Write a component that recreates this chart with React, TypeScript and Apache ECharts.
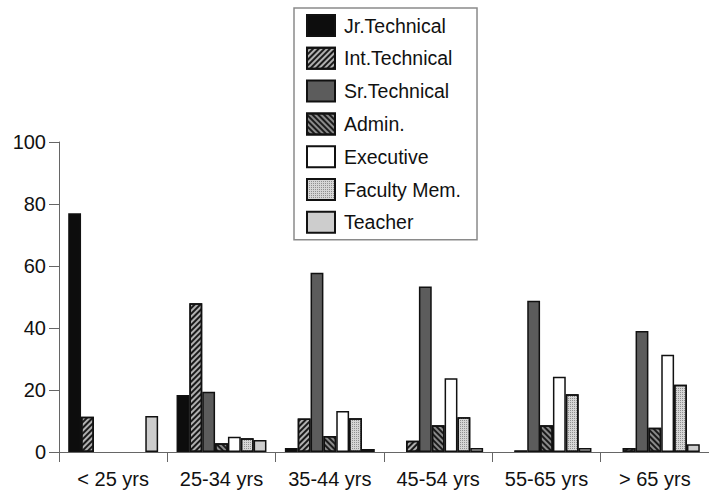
import React, { useEffect, useRef } from "react";
import * as echarts from "echarts";

const categories = ["< 25 yrs", "25-34 yrs", "35-44 yrs", "45-54 yrs", "55-65 yrs", "> 65 yrs"];
const seriesNames = ["Jr.Technical", "Int.Technical", "Sr.Technical", "Admin.", "Executive", "Faculty Mem.", "Teacher"];
const jrTechnical = [77, 18.4, 1.3, 0, 0, 0];
const intTechnical = [11.4, 48, 10.8, 3.6, 0.5, 1.3];
const srTechnical = [0, 19.4, 57.8, 53.4, 48.8, 39];
const admin = [0, 2.8, 5.2, 8.6, 8.6, 7.8];
const executive = [0, 4.9, 13.2, 23.8, 24.3, 31.4];
const facultyMem = [0, 4.4, 10.9, 11.2, 18.6, 21.7];
const teacher = [11.6, 3.9, 1.0, 1.3, 1.3, 2.5];
const yTicks = { min: 0, max: 100, interval: 20 };

const FONT = "'Liberation Sans', Arial, Helvetica, sans-serif";

export default function App() {
  const ref = useRef<HTMLDivElement>(null);
  useEffect(() => {
    if (!ref.current) return;
    const chart = echarts.init(ref.current, undefined, { renderer: "svg" });
    const values = [jrTechnical, intTechnical, srTechnical, admin, executive, facultyMem, teacher];
    const styles: any[] = [
      { color: "#0d0d0d" },
      {
        color: "#b0b0b0",
        decal: { symbol: "rect", dashArrayX: [1, 0], dashArrayY: [1.5, 2], rotation: -Math.PI / 4, color: "#1a1a1a" },
      },
      { color: "#5c5c5c" },
      {
        color: "#8a8a8a",
        decal: { symbol: "rect", dashArrayX: [1, 0], dashArrayY: [1.5, 2], rotation: Math.PI / 4, color: "#1a1a1a" },
      },
      { color: "#ffffff" },
      {
        color: "#d6d6d6",
        decal: { symbol: "rect", symbolSize: 1, dashArrayX: [1, 1], dashArrayY: [1, 1], color: "#909090" },
      },
      { color: "#cdcdcd" },
    ];
    const series = seriesNames.map((name, i) => ({
      name,
      type: "bar",
      barGap: "0%",
      barCategoryGap: "17%",
      data: values[i].map((v) => (v === 0 ? "-" : v)),
      itemStyle: { ...styles[i], borderColor: "#111", borderWidth: 1.5 },
    }));
    chart.setOption({
      animation: false,
      backgroundColor: "#ffffff",
      textStyle: { fontFamily: FONT },
      legend: {
        orient: "vertical",
        left: 294,
        top: 8,
        padding: [6, 16, 6, 12],
        itemWidth: 28,
        itemHeight: 21,
        itemGap: 9.8,
        icon: "rect",
        borderColor: "#8a8a8a",
        borderWidth: 1.5,
        backgroundColor: "#ffffff",
        textStyle: { fontFamily: FONT, fontSize: 19.5, color: "#111", lineHeight: 21, padding: [0, 0, 0, 4] },
        data: seriesNames,
      },
      grid: { left: 59, right: 0, top: 142, bottom: 40, containLabel: false },
      xAxis: {
        type: "category",
        data: categories,
        axisLine: { lineStyle: { color: "#666", width: 1 } },
        axisTick: { show: true, length: 10, interval: 0, lineStyle: { color: "#666" } },
        axisLabel: { fontFamily: FONT, fontSize: 20, color: "#111", margin: 17, interval: 0 },
      },
      yAxis: {
        type: "value",
        ...yTicks,
        splitLine: { show: false },
        axisLine: { show: true, lineStyle: { color: "#666", width: 1 } },
        axisTick: { show: true, length: 10, lineStyle: { color: "#666" } },
        axisLabel: { fontFamily: FONT, fontSize: 20, color: "#111", margin: 13 },
      },
      series,
    });
    return () => chart.dispose();
  }, []);
  return <div ref={ref} style={{ position: "absolute", left: 0, top: 0, width: 709, height: 492 }} />;
}
